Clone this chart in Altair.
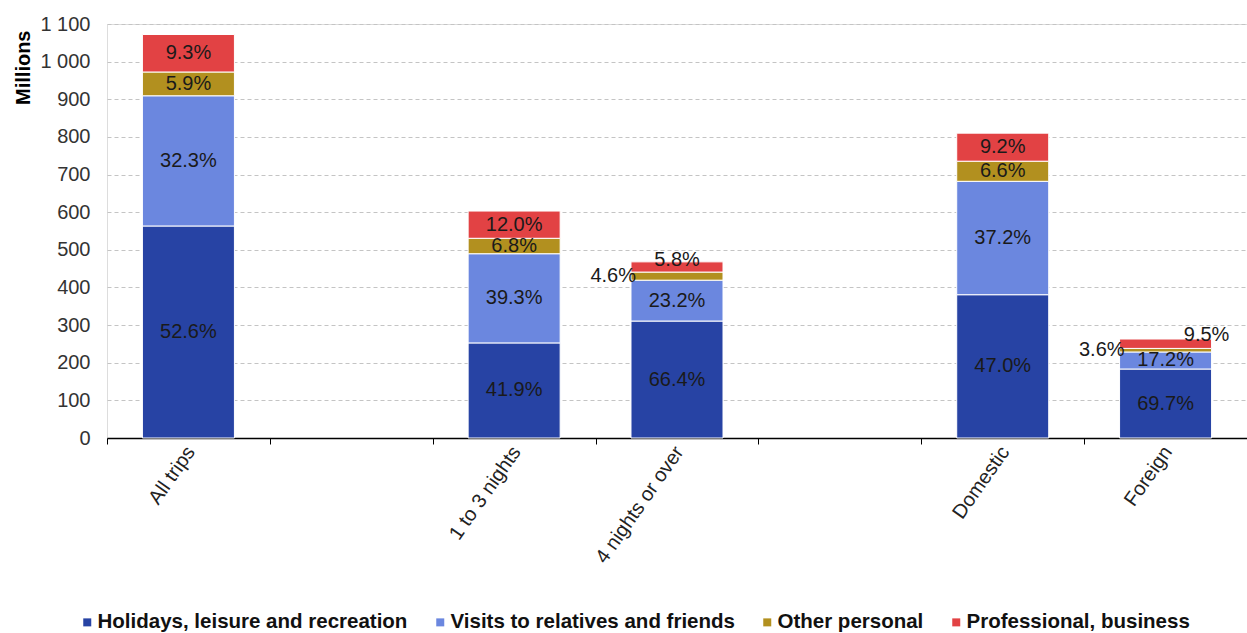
import altair as alt
import pandas as pd

# Trips by length / destination, split by main purpose (millions of trips, shares in %)
categories = ["All trips", "1 to 3 nights", "4 nights or over", "Domestic", "Foreign"]
slots = ["All trips", " ", "1 to 3 nights", "4 nights or over", "  ", "Domestic", "Foreign"]
purposes = [
    "Holidays, leisure and recreation",
    "Visits to relatives and friends",
    "Other personal",
    "Professional, business",
]
colors = ["#2743A4", "#6B87DF", "#B2901F", "#E24244"]

totals = [1071, 603, 468, 810, 263]
holidays_pct = [52.6, 41.9, 66.4, 47.0, 69.7]
visits_pct = [32.3, 39.3, 23.2, 37.2, 17.2]
other_pct = [5.9, 6.8, 4.6, 6.6, 3.6]
business_pct = [9.3, 12.0, 5.8, 9.2, 9.5]

# Small segments whose labels sit outside the bar
left_labels = [("4 nights or over", "Other personal"), ("Foreign", "Other personal")]
top_labels = [("4 nights or over", "Professional, business")]
top_right_labels = [("Foreign", "Professional, business")]

rows = []
shares = [holidays_pct, visits_pct, other_pct, business_pct]
for i, cat in enumerate(categories):
    base = 0.0
    for j, purpose in enumerate(purposes):
        pct = shares[j][i]
        value = totals[i] * pct / 100
        key = (cat, purpose)
        if key in left_labels:
            place = "left"
        elif key in top_labels:
            place = "top"
        elif key in top_right_labels:
            place = "topright"
        else:
            place = "in"
        rows.append({
            "category": cat,
            "purpose": purpose,
            "order": j,
            "y0": base,
            "y1": base + value,
            "mid": base + value / 2,
            "label": f"{pct:.1f}%",
            "place": place,
        })
        base += value
df = pd.DataFrame(rows)

FONT = "Liberation Sans"

x_scale = alt.Scale(domain=slots, paddingInner=0, paddingOuter=0)
x_axis = alt.Axis(
    title=None,
    labelAngle=-55,
    labelFont=FONT,
    labelFontSize=20,
    labelColor="#222222",
    labelOffset=2,
    labelPadding=4,
    tickBand="extent",
    tickSize=6,
    tickColor="#000000",
    domainColor="#000000",
    domainWidth=1.5,
    grid=False,
)
y_scale = alt.Scale(domain=[0, 1100], nice=False)
y_axis = alt.Axis(
    title="Millions",
    titleFont=FONT,
    titleFontSize=20,
    titleFontWeight="bold",
    titleColor="#000000",
    titleAngle=-90,
    titleAlign="right",
    titleBaseline="alphabetic",
    titleX=-78,
    titleY=6,
    values=list(range(0, 1101, 100)),
    labelExpr="replace(format(datum.value, ','), ',', ' ')",
    labelFont=FONT,
    labelFontSize=20,
    labelColor="#333333",
    labelPadding=17,
    labelOverlap=False,
    ticks=False,
    domain=False,
    grid=True,
    gridColor="#c4c4c4",
    gridDash=[4, 3],
    gridWidth=1,
)

bars = alt.Chart(df).mark_bar(
    stroke="white", strokeWidth=1, width={"band": 0.565}
).encode(
    x=alt.X("category:N", scale=x_scale, sort=slots, axis=x_axis),
    y=alt.Y("y0:Q", scale=y_scale, axis=y_axis),
    y2="y1:Q",
    color=alt.Color(
        "purpose:N",
        scale=alt.Scale(domain=purposes, range=colors),
        sort=purposes,
        legend=alt.Legend(
            title=None,
            orient="none",
            direction="horizontal",
            legendX=-30,
            legendY=588,
            symbolType="square",
            symbolSize=64,
            symbolStrokeWidth=0,
            labelFont=FONT,
            labelFontSize=20.5,
            labelFontWeight="bold",
            labelColor="#111111",
            labelOffset=0,
            labelLimit=0,
            columnPadding=22,
        ),
    ),
    order="order:Q",
)

text_base = alt.Chart(df).encode(
    x=alt.X("category:N", scale=x_scale, sort=slots, axis=x_axis),
    y=alt.Y("mid:Q", scale=y_scale, axis=y_axis),
    text="label:N",
)
text_style = dict(font=FONT, fontSize=20, color="#1a1a1a", baseline="middle")

inside = text_base.transform_filter("datum.place == 'in'").mark_text(align="center", **text_style)
left = text_base.transform_filter("datum.place == 'left'").mark_text(align="right", dx=-41, **text_style)
top = text_base.transform_filter("datum.place == 'top'").mark_text(align="center", dy=-7, **text_style)
top_right = text_base.transform_filter("datum.place == 'topright'").mark_text(align="center", dx=41, dy=-9, **text_style)

chart = alt.layer(bars, inside, left, top, top_right).properties(
    width=1140,
    height=414,
    autosize=alt.AutoSizeParams(type="none"),
    padding={"left": 107, "top": 24, "right": 0, "bottom": 195},
).configure_view(stroke=None).configure(background="white")

chart.save("out.html", embed_options={"renderer": "svg", "actions": False})
